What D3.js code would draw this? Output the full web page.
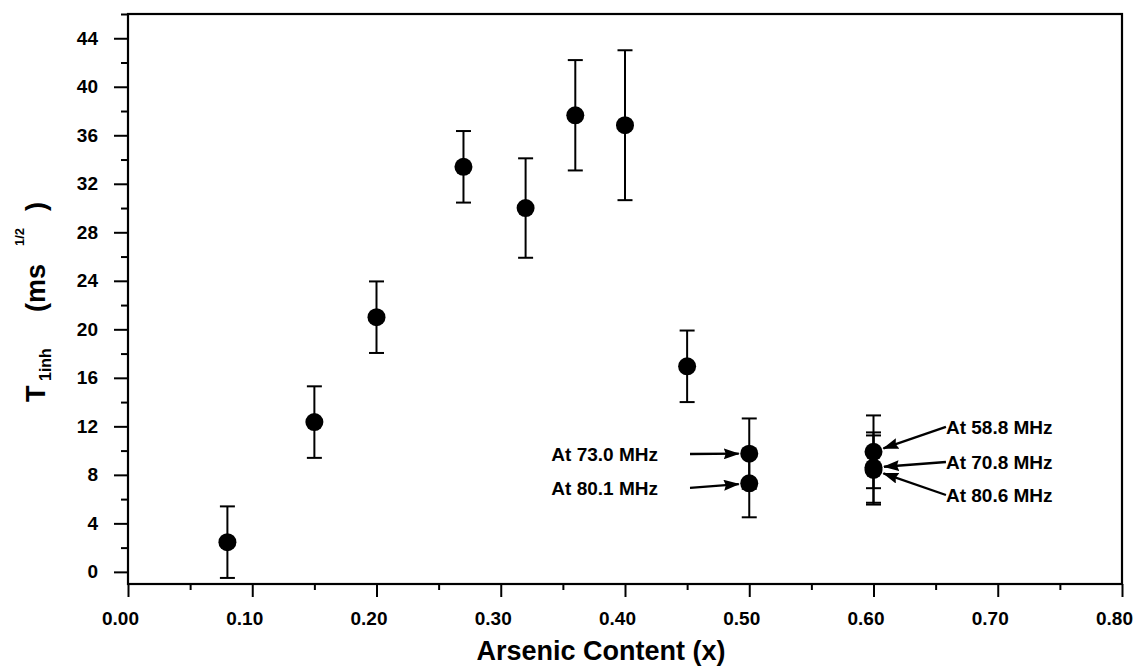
<!DOCTYPE html>
<html>
<head>
<meta charset="utf-8">
<script src="https://cdn.jsdelivr.net/npm/d3@7"></script>
<style>
  html, body { margin: 0; padding: 0; background: #fff; }
  svg { display: block; }
  text { font-family: "Liberation Sans", Arial, Helvetica, sans-serif; font-weight: bold; fill: #000; }
</style>
</head>
<body>
<svg id="chart" width="1134" height="667"></svg>
<script>
// Arsenic content of each sample and its inhomogeneous T1 value with error
const arsenic   = [0.08, 0.15, 0.20, 0.27, 0.32, 0.36, 0.40, 0.45, 0.50, 0.50, 0.60, 0.60, 0.60];
const t1inh     = [2.45, 12.35, 21.0, 33.4, 30.0, 37.65, 36.83, 16.95, 9.75, 7.3, 9.9, 8.6, 8.4];
const t1inhErr  = [2.95, 2.95, 2.95, 2.95, 4.1, 4.55, 6.18, 2.95, 2.9, 2.8, 3.0, 2.9, 2.85];

// Axis ticks
const xTickValues = [0.00, 0.10, 0.20, 0.30, 0.40, 0.50, 0.60, 0.70, 0.80];
const xMinorTicks = [0.05, 0.15, 0.25, 0.35, 0.45, 0.55, 0.65, 0.75];
const yTickValues = [0, 4, 8, 12, 16, 20, 24, 28, 32, 36, 40, 44];
const yMinorTicks = [2, 6, 10, 14, 18, 22, 26, 30, 34, 38, 42, 46];

// Frequency callouts: which point each one labels, and where its arrow starts
const calloutText   = ["At 73.0 MHz", "At 80.1 MHz", "At 58.8 MHz", "At 70.8 MHz", "At 80.6 MHz"];
const calloutPoint  = [8, 9, 10, 11, 12];
const calloutTailX  = [0.4523, 0.4523, 0.6583, 0.6583, 0.6583];
const calloutTailY  = [9.72, 6.92, 11.95, 9.06, 6.34];
const calloutSide   = ["left", "left", "right", "right", "right"];

const svg = d3.select("#chart");
const W = 1134, H = 667;
const margin = { top: 14, right: 12, bottom: 83, left: 128 };

const x = d3.scaleLinear().domain([0, 0.8]).range([margin.left, W - margin.right]);
const y = d3.scaleLinear().domain([-1, 46]).range([H - margin.bottom, margin.top]);

const tickFont = "19px";

// Bottom axis: major labelled ticks and short minor ticks
const gx = svg.append("g").attr("transform", `translate(0,${y(-1)})`);
gx.call(d3.axisBottom(x).tickValues(xTickValues).tickSize(13).tickPadding(15)
      .tickFormat(d => d.toFixed(2)));
gx.append("g").call(d3.axisBottom(x).tickValues(xMinorTicks).tickSize(6).tickFormat(""));
gx.selectAll(".domain").remove();
gx.selectAll("line").attr("stroke", "#000").attr("stroke-width", 2);
gx.selectAll("text").style("font-size", tickFont).attr("fill", "#000").attr("dx", -8);

// Left axis
const gy = svg.append("g").attr("transform", `translate(${x(0)},0)`);
gy.call(d3.axisLeft(y).tickValues(yTickValues).tickSize(14).tickPadding(16));
gy.append("g").call(d3.axisLeft(y).tickValues(yMinorTicks).tickSize(7).tickFormat(""));
gy.selectAll(".domain").remove();
gy.selectAll("line").attr("stroke", "#000").attr("stroke-width", 2);
gy.selectAll("text").style("font-size", tickFont).attr("fill", "#000");

// Plot frame
svg.append("rect")
  .attr("x", x(0)).attr("y", y(46))
  .attr("width", x(0.8) - x(0)).attr("height", y(-1) - y(46))
  .attr("fill", "none").attr("stroke", "#000").attr("stroke-width", 2.2);

// Points with error bars
const pts = arsenic.map((a, i) => ({ x: a, y: t1inh[i], e: t1inhErr[i] }));
const capHalf = 7.5;
const eb = svg.append("g").attr("stroke", "#000").attr("stroke-width", 2);
eb.selectAll("line.bar").data(pts).join("line").attr("class", "bar")
  .attr("x1", d => x(d.x)).attr("x2", d => x(d.x))
  .attr("y1", d => y(d.y - d.e)).attr("y2", d => y(d.y + d.e));
eb.selectAll("line.capTop").data(pts).join("line").attr("class", "capTop")
  .attr("x1", d => x(d.x) - capHalf).attr("x2", d => x(d.x) + capHalf)
  .attr("y1", d => y(d.y + d.e)).attr("y2", d => y(d.y + d.e));
eb.selectAll("line.capBot").data(pts).join("line").attr("class", "capBot")
  .attr("x1", d => x(d.x) - capHalf).attr("x2", d => x(d.x) + capHalf)
  .attr("y1", d => y(d.y - d.e)).attr("y2", d => y(d.y - d.e));

const dotR = 9;
svg.append("g").selectAll("circle").data(pts).join("circle")
  .attr("cx", d => x(d.x)).attr("cy", d => y(d.y)).attr("r", dotR)
  .attr("fill", "#000");

// Arrowhead marker: solid triangle
svg.append("defs").append("marker")
  .attr("id", "head").attr("markerUnits", "userSpaceOnUse")
  .attr("viewBox", "0 0 16 11").attr("refX", 15).attr("refY", 5.5)
  .attr("markerWidth", 16).attr("markerHeight", 11).attr("orient", "auto")
  .append("path").attr("d", "M0,0 L16,5.5 L0,11 L2,5.5 Z").attr("fill", "#000");

// Callouts
const callouts = calloutText.map((t, i) => {
  const p = pts[calloutPoint[i]];
  const tx = x(calloutTailX[i]), ty = y(calloutTailY[i]);
  const px = x(p.x), py = y(p.y);
  const dx = tx - px, dy = ty - py, len = Math.hypot(dx, dy);
  const stop = dotR + 1.5;
  return { t, tx, ty, hx: px + dx / len * stop, hy: py + dy / len * stop, side: calloutSide[i] };
});
const cg = svg.append("g");
cg.selectAll("line").data(callouts).join("line")
  .attr("x1", d => d.tx).attr("y1", d => d.ty)
  .attr("x2", d => d.hx).attr("y2", d => d.hy)
  .attr("stroke", "#000").attr("stroke-width", 2.3)
  .attr("marker-end", "url(#head)");
cg.selectAll("text").data(callouts).join("text")
  .attr("x", d => d.side === "left" ? d.tx - 32 : d.tx)
  .attr("y", d => d.ty).attr("dy", "0.36em")
  .attr("text-anchor", d => d.side === "left" ? "end" : "start")
  .style("font-size", "19px")
  .text(d => d.t);

// Axis titles
svg.append("text")
  .attr("x", 601).attr("y", 660)
  .attr("text-anchor", "middle")
  .style("font-size", "27px")
  .text("Arsenic Content (x)");

const ylab = [
  { t: "T",    x: 45, y: 402, size: 27 },
  { t: "1inh", x: 51, y: 381, size: 16 },
  { t: "(ms",  x: 45, y: 312, size: 27 },
  { t: "1/2",  x: 24, y: 246, size: 13 },
  { t: ")",    x: 45, y: 211, size: 27 }
];
svg.append("g").selectAll("text").data(ylab).join("text")
  .attr("transform", d => `translate(${d.x},${d.y}) rotate(-90)`)
  .style("font-size", d => d.size + "px")
  .text(d => d.t);
</script>
</body>
</html>
